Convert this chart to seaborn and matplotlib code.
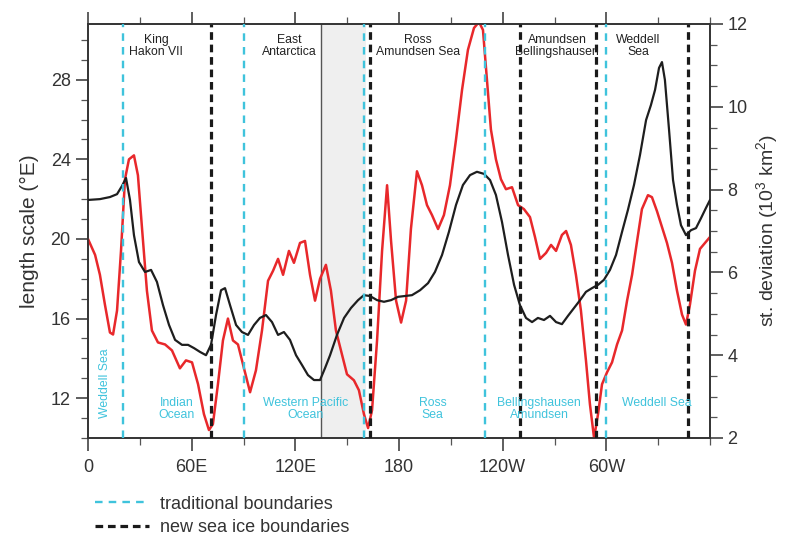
import numpy as np
import pandas as pd
import matplotlib
matplotlib.use("Agg")
import matplotlib.pyplot as plt
from matplotlib.lines import Line2D
from matplotlib.ticker import MultipleLocator, FixedLocator, FixedFormatter
import matplotlib.transforms as mtransforms
import seaborn as sns

# ---------------- data ----------------
lon_red = [0, 4.1, 6.9, 9.8, 12.7, 14.5, 16.8, 19.1, 21.4, 23.7, 26.6, 28.9, 31.3, 34.1, 37.0,
           40.5, 44.6, 48.6, 53.2, 56.7, 60.2, 63.7, 67.1, 70.0, 72.3, 75.2, 78.1, 81.0, 83.9,
           86.8, 89.7, 93.8, 97.2, 100.7, 104.2, 107.1, 110.0, 112.9, 116.3, 119.2, 122.7,
           125.6, 128.5, 131.4, 134.3, 137.7, 140.6, 143.5, 146.4, 149.9, 153.9, 156.8, 159.7,
           162.1, 164.4, 167.3, 170.2, 173.1, 175.4, 178.3, 181.2, 184.1, 186.9, 190.4, 193.3,
           196.2, 199.1, 202.6, 206.0, 209.5, 213.0, 216.5, 219.9, 223.4, 226.3, 228.6, 230.9,
           233.2, 236.1, 239.0, 241.9, 245.4, 248.9, 252.3, 255.8, 258.7, 261.6, 265.1, 268.0,
           270.9, 274.3, 276.7, 279.5, 282.4, 285.3, 288.2, 290.5, 292.9, 295.2, 297.5, 300.4,
           303.3, 306.2, 309.1, 312.0, 314.9, 317.8, 320.6, 324.1, 326.4, 329.3, 332.2, 335.1,
           338.0, 340.9, 343.8, 346.1, 348.4, 351.3, 354.2, 357.1, 360.0]
length_scale = [20.0, 19.2, 18.2, 16.7, 15.3, 15.2, 16.4, 19.4, 23.0, 24.0, 24.2, 23.2, 20.5, 17.4,
                15.4, 14.8, 14.7, 14.4, 13.5, 13.9, 13.8, 12.7, 11.2, 10.4, 10.7, 12.7, 14.9, 16.0,
                14.9, 14.7, 13.7, 12.3, 13.4, 15.4, 17.9, 18.4, 19.0, 18.2, 19.4, 18.8, 19.8, 19.9,
                18.2, 16.9, 18.0, 18.7, 17.4, 15.4, 14.4, 13.2, 12.9, 12.4, 11.2, 10.5, 11.4, 14.9,
                19.4, 22.7, 19.9, 16.9, 15.8, 16.9, 20.5, 23.4, 22.7, 21.7, 21.2, 20.5, 21.2, 22.7,
                25.0, 27.5, 29.5, 30.6, 30.9, 30.5, 28.0, 25.5, 24.0, 23.0, 22.5, 22.6, 21.7, 21.5,
                21.1, 20.1, 19.0, 19.3, 19.7, 19.4, 20.2, 20.4, 19.7, 18.2, 16.4, 13.9, 11.7, 10.0,
                11.2, 12.7, 13.3, 13.8, 14.7, 15.4, 16.9, 18.2, 19.9, 21.5, 22.2, 22.1, 21.4, 20.6,
                19.8, 18.8, 17.4, 16.2, 15.7, 16.7, 18.4, 19.5, 19.8, 20.1]

lon_black = [0, 6.9, 12.7, 16.8, 19.7, 22.0, 24.3, 26.6, 29.5, 33.0, 36.5, 39.9, 43.4, 46.9, 50.4,
             54.4, 57.9, 61.4, 64.8, 68.3, 71.2, 74.1, 77.0, 79.3, 82.2, 85.7, 89.1, 92.6, 96.1,
             99.5, 103.0, 106.5, 110.0, 113.4, 116.9, 120.4, 123.9, 127.3, 130.8, 134.3, 137.2,
             140.1, 144.1, 148.2, 152.2, 156.3, 159.7, 163.2, 167.3, 171.3, 175.4, 179.4, 183.5,
             187.5, 192.2, 196.8, 200.8, 204.9, 208.9, 213.0, 217.0, 221.1, 225.1, 229.2, 232.7,
             236.1, 239.6, 243.1, 246.6, 250.0, 253.5, 257.0, 260.4, 263.9, 267.4, 270.9, 274.3,
             277.8, 281.3, 284.8, 288.2, 291.7, 295.2, 298.6, 302.1, 305.6, 309.1, 312.5, 316.0,
             319.5, 323.0, 325.8, 328.2, 330.5, 332.2, 333.9, 336.3, 338.6, 340.9, 343.2, 346.1,
             349.0, 351.9, 354.8, 357.7, 360.0]
st_dev = [7.75, 7.77, 7.82, 7.89, 8.09, 8.28, 7.75, 6.90, 6.25, 6.01, 6.06, 5.77, 5.21, 4.73, 4.37,
          4.25, 4.25, 4.17, 4.08, 4.00, 4.25, 4.97, 5.57, 5.62, 5.21, 4.73, 4.56, 4.49, 4.73, 4.90,
          4.97, 4.80, 4.49, 4.56, 4.37, 4.00, 3.76, 3.52, 3.40, 3.40, 3.69, 4.00, 4.49, 4.90, 5.14,
          5.33, 5.45, 5.43, 5.33, 5.29, 5.33, 5.41, 5.43, 5.45, 5.57, 5.74, 6.01, 6.42, 6.98, 7.63,
          8.11, 8.35, 8.43, 8.38, 8.23, 7.87, 7.22, 6.42, 5.70, 5.21, 4.90, 4.80, 4.90, 4.85, 4.95,
          4.80, 4.75, 4.95, 5.14, 5.33, 5.53, 5.62, 5.70, 5.82, 6.06, 6.42, 6.98, 7.51, 8.11, 8.84,
          9.68, 10.04, 10.41, 10.94, 11.08, 10.65, 9.44, 8.23, 7.63, 7.14, 6.90, 7.02, 7.07, 7.31,
          7.56, 7.75]

traditional_bounds = [20, 90, 160, 230, 300]
new_bounds = [71, 163, 250, 294, 347]
shaded_span = [135, 161]

x_tick_pos = [0, 60, 120, 180, 240, 300]
x_tick_labels = ["0", "60E", "120E", "180", "120W", "60W"]

top_labels = ["King\nHakon VII", "East\nAntarctica", "Ross\nAmundsen Sea",
              "Amundsen\nBellingshausen", "Weddell\nSea"]
top_label_lon = [39.5, 116.5, 191, 271.5, 318.5]

bottom_labels = ["Indian\nOcean", "Western Pacific\nOcean", "Ross\nSea",
                 "Bellingshausen\nAmundsen", "Weddell Sea"]
bottom_label_lon = [51.5, 126, 199.5, 261, 329]

# ---------------- style ----------------
sns.set_style("ticks")
plt.rcParams["font.family"] = ["Liberation Sans", "DejaVu Sans"]
plt.rcParams["mathtext.fontset"] = "custom"
plt.rcParams["mathtext.rm"] = "Liberation Sans"
plt.rcParams["mathtext.it"] = "Liberation Sans"

CYAN = "#3fc3dc"
RED = "#e8282b"
BLACK = "#1e1e1e"
TXT = "#333333"

fig = plt.figure(figsize=(7.85, 5.45), dpi=100)
ax = fig.add_axes([88 / 785, 1 - 438 / 545, (710 - 88) / 785, (438 - 24) / 545])
ax2 = ax.twinx()

# shaded region
ax.axvspan(shaded_span[0], shaded_span[1], facecolor="#efefef", edgecolor="none", zorder=0)
ax.axvline(shaded_span[0], color="#555555", lw=1.0, zorder=1)

df_red = pd.DataFrame({"lon": lon_red, "len": length_scale})
df_blk = pd.DataFrame({"lon": lon_black, "sd": st_dev})
sns.lineplot(data=df_red, x="lon", y="len", ax=ax, color=RED, lw=1.8, sort=False,
             estimator=None, zorder=3)
sns.lineplot(data=df_blk, x="lon", y="sd", ax=ax2, color=BLACK, lw=1.6, sort=False,
             estimator=None, zorder=3)

cyan_ls = (0, (3.2, 2.6))
black_ls = (0, (2.4, 1.5))
for b in traditional_bounds:
    ax2.axvline(b, color=CYAN, lw=1.7, ls=cyan_ls, zorder=4)
for b in new_bounds:
    ax2.axvline(b, color="#1a1a1a", lw=2.3, ls=black_ls, zorder=4)

ax.set_xlim(0, 360)
ax.set_ylim(10, 30.8)
ax2.set_ylim(2, 12)

ax.xaxis.set_major_locator(FixedLocator(x_tick_pos))
ax.xaxis.set_major_formatter(FixedFormatter(x_tick_labels))
ax.xaxis.set_minor_locator(MultipleLocator(30))
ax.yaxis.set_major_locator(FixedLocator([12, 16, 20, 24, 28]))
ax.yaxis.set_minor_locator(MultipleLocator(1))
ax2.yaxis.set_major_locator(MultipleLocator(2))
ax2.yaxis.set_minor_locator(MultipleLocator(0.5))

for a in (ax, ax2):
    for s in a.spines.values():
        s.set_color("#333333")
        s.set_linewidth(1.2)
        s.set_visible(True)
    a.tick_params(which="major", direction="out", length=9, width=1.1, color="#333333",
                  labelsize=13, labelcolor=TXT)
    a.tick_params(which="minor", direction="out", length=5, width=0.9, color="#555555")
ax.tick_params(axis="x", which="both", top=True)
ax.tick_params(axis="x", which="major", pad=6)

ax.set_xlabel("")
ax.set_ylabel("length scale (°E)", fontsize=15, color=TXT, labelpad=8)
ax2.set_ylabel("st. deviation (10$^3$ km$^2$)", fontsize=14, color=TXT, labelpad=5)

ax2.set_zorder(ax.get_zorder() + 1)
ax2.patch.set_visible(False)

trans = mtransforms.blended_transform_factory(ax.transData, ax.transAxes)
for lab, lo in zip(top_labels, top_label_lon):
    ax2.text(lo, 0.947, lab, transform=trans, ha="center", va="center", fontsize=8.8,
             color="#222222", linespacing=1.05, zorder=6)
for lab, lo in zip(bottom_labels, bottom_label_lon):
    yy = 0.085 if "\n" not in lab else 0.07
    ax2.text(lo, yy, lab, transform=trans, ha="center", va="center", fontsize=8.8,
             color=CYAN, linespacing=1.05, zorder=6)
ax2.text(10, 0.133, "Weddell Sea", transform=trans, ha="center", va="center", fontsize=8.8,
         color=CYAN, rotation=90, zorder=6)

handles = [Line2D([], [], color=CYAN, lw=1.7, ls=cyan_ls),
           Line2D([], [], color="#1a1a1a", lw=2.3, ls=black_ls)]
fig.legend(handles, ["traditional boundaries", "new sea ice boundaries"],
           loc="upper left", bbox_to_anchor=(82 / 785, 1 - 483 / 545), frameon=False,
           fontsize=13, handlelength=3.0, labelcolor=TXT, borderpad=0.2, labelspacing=0.35,
           handletextpad=0.6)

fig.savefig("out.png", dpi=100)
